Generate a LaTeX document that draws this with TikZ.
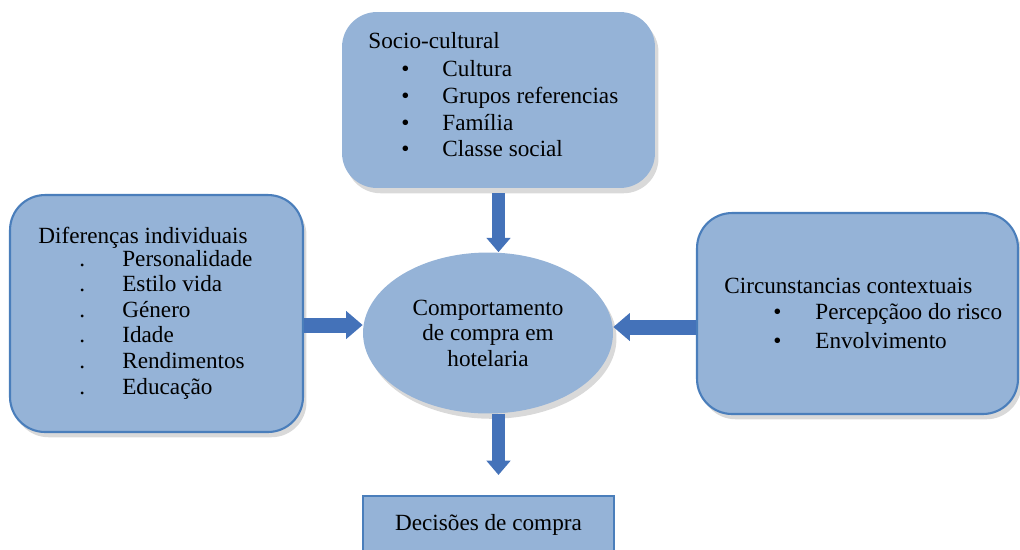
\documentclass[tikz,border=0pt]{standalone}
\usepackage{fontspec}
\setmainfont{Liberation Serif}
\usetikzlibrary{shapes.geometric, arrows.meta, shadows}

\definecolor{boxfill}{RGB}{149,179,215}
\definecolor{boxline}{RGB}{74,126,187}
\definecolor{arrowblue}{RGB}{68,114,185}
\newcommand{\boxitem}[4]{\hspace*{#1}\makebox[0pt]{#2}\hspace*{#3}#4}

\begin{document}
\begin{tikzpicture}[x=0.02cm, y=-0.02cm,
    box/.style={fill=boxfill, rounded corners=.7cm, drop shadow={opacity=.3, shadow xshift=2pt, shadow yshift=-3pt}},
    txt/.style={anchor=base west, inner sep=0pt},
    blockarrow/.style={draw=arrowblue, line width=#1, -{Triangle[width=0pt 1.8, length=0pt 1.1]}},
    blockarrow/.default=.26cm]
    \useasboundingbox (0,0) rectangle (1020,549);
    \clip (0,0) rectangle (1020,549);

    % the boxes
    \node[box, minimum width=6.26cm, minimum height=3.52cm] (socio) at (498.5,100) {};
    \node[box, draw=boxline, line width=1.2pt, minimum width=5.86cm, minimum height=4.74cm] (diff) at (156.5,313.5) {};
    \node[box, draw=boxline, line width=1.2pt, minimum width=6.42cm, minimum height=4.02cm] (circ) at (857.5,313.5) {};
    \node[ellipse, fill=boxfill, minimum width=5cm, minimum height=3.22cm, align=center,
          drop shadow={opacity=.3, shadow xshift=2pt, shadow yshift=-3pt},
          font=\fontsize{13.2}{14.5}\selectfont] (comp) at (488,333) {Comportamento\\de compra em\\hotelaria};
    \node[fill=boxfill, draw=boxline, line width=1.2pt, minimum width=5.02cm, minimum height=1.16cm,
          font=\fontsize{13.2}{15}\selectfont] (decis) at (488.5,525) {Decisões de compra};

    % the lists
    \node[txt, font=\fontsize{13.2}{15.1}\selectfont] (sociotxt) at (368,48) {\begin{tabular}[t]{@{}l@{}}
        Socio-cultural\\[1.4pt]
        \boxitem{21.1pt}{•}{21.1pt}{Cultura}\\
        \boxitem{21.1pt}{•}{21.1pt}{Grupos referencias}\\
        \boxitem{21.1pt}{•}{21.1pt}{Família}\\
        \boxitem{21.1pt}{•}{21.1pt}{Classe social}
    \end{tabular}};
    \node[txt, font=\fontsize{13.2}{14.6}\selectfont] (difftxt) at (38,243) {\begin{tabular}[t]{@{}l@{}}
        Diferenças individuais\\[-1.5pt]
        \boxitem{25pt}{.}{22.8pt}{Personalidade}\\
        \boxitem{25pt}{.}{22.8pt}{Estilo vida}\\
        \boxitem{25pt}{.}{22.8pt}{Género}\\
        \boxitem{25pt}{.}{22.8pt}{Idade}\\
        \boxitem{25pt}{.}{22.8pt}{Rendimentos}\\
        \boxitem{25pt}{.}{22.8pt}{Educação}
    \end{tabular}};
    \node[txt, font=\fontsize{13.2}{16.3}\selectfont] (circtxt) at (724,293) {\begin{tabular}[t]{@{}l@{}}
        Circunstancias contextuais\\[-1pt]
        \boxitem{30.2pt}{•}{21.6pt}{Percepçãoo do risco}\\
        \boxitem{30.2pt}{•}{21.6pt}{Envolvimento}
    \end{tabular}};

    % block arrows
    \draw[blockarrow] ([yshift=-.1cm]socio.south) -- (socio.south |- comp.north);
    \draw[blockarrow=.3cm] ([yshift=-.23cm]diff.east) -- ([yshift=-.23cm]diff.east -| comp.west);
    \draw[blockarrow=.3cm] ([yshift=-.27cm]circ.west) -- ([yshift=-.27cm]circ.west -| comp.east);
    \draw[blockarrow, shorten >=.4cm] (comp.south -| socio.south) -- (decis.north -| socio.south);
\end{tikzpicture}
\end{document}
